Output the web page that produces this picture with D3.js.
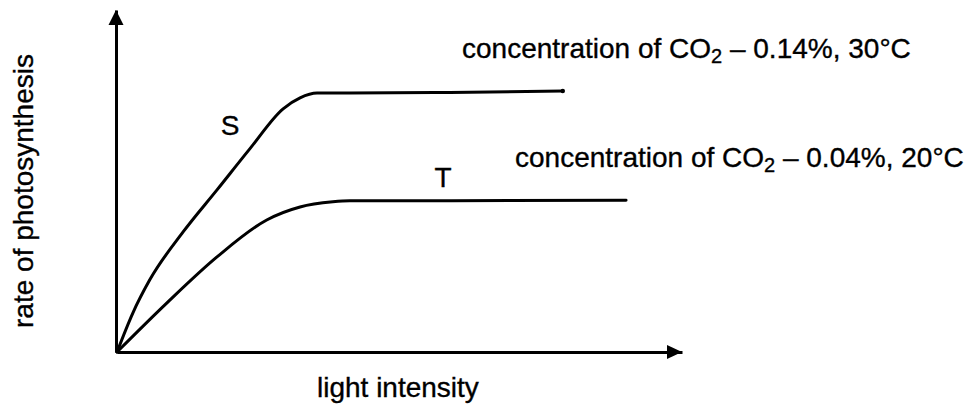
<!DOCTYPE html>
<html><head><meta charset="utf-8">
<script src="https://cdn.jsdelivr.net/npm/d3@7"></script>
<style>
html,body{margin:0;padding:0;background:#fff;}
text{font-family:"Liberation Sans",Arial,sans-serif;fill:#000;stroke:#000;stroke-width:0.35px;}
</style>
</head><body>
<svg id="chart" width="968" height="409"></svg>
<script>
// ---- data (arbitrary units) ----
const lightS = [0, 2.8, 5.8, 11.7, 17.7, 23.5, 29.4, 32.4, 35.4, 41.2, 58.9, 78.9];
const rateS  = [0, 11.4, 21.1, 35.1, 47.4, 59.4, 71.1, 74.3, 75.7, 75.7, 75.9, 76.3];
const lightT = [0, 8.8, 17.7, 26.5, 32.4, 38.2, 41.2, 58.9, 90.1];
const rateT  = [0, 14.3, 27.8, 38.6, 42.4, 43.9, 44.2, 44.2, 44.4];
const curveLabels = ["S", "T"];
const conditionLabels = [
  ["concentration of CO", "2", " \u2013 0.14%, 30\u00B0C"],
  ["concentration of CO", "2", " \u2013 0.04%, 20\u00B0C"]
];
const xTitle = "light intensity";
const yTitle = "rate of photosynthesis";

const svg = d3.select("#chart");
const x = d3.scaleLinear().domain([0, 100]).range([117, 682]);
const y = d3.scaleLinear().domain([0, 100]).range([352, 10]);

// axes (no ticks) with arrowheads
const gx = svg.append("g").attr("transform", `translate(0,${y(0)})`)
  .call(d3.axisBottom(x).tickValues([]).tickSizeOuter(0));
const gy = svg.append("g").attr("transform", `translate(${x(0) - 1},0)`)
  .call(d3.axisLeft(y).tickValues([]).tickSizeOuter(0));
[gx, gy].forEach(g => g.select(".domain").attr("stroke", "#000").attr("stroke-width", 3));

const xt = x(100), y0 = y(0);
svg.append("path").attr("d", `M${xt},${y0} L${xt - 15},${y0 - 7} L${xt - 15},${y0 + 7} Z`).attr("fill", "#000");
const yt = y(100), x0 = x(0) - 1;
svg.append("path").attr("d", `M${x0},${yt} L${x0 - 7.5},${yt + 15} L${x0 + 7.5},${yt + 15} Z`).attr("fill", "#000");

// curves
const line = d3.line().x(d => x(d[0])).y(d => y(d[1])).curve(d3.curveMonotoneX);
const sData = lightS.map((v, i) => [v, rateS[i]]);
const tData = lightT.map((v, i) => [v, rateT[i]]);
[sData, tData].forEach(data => {
  svg.append("path").datum(data).attr("d", line)
    .attr("fill", "none").attr("stroke", "#000").attr("stroke-width", 3)
    .attr("stroke-linecap", "round").attr("stroke-linejoin", "round");
});
// small blob at the end of S
const sEnd = sData[sData.length - 1];
svg.append("circle").attr("cx", x(sEnd[0])).attr("cy", y(sEnd[1])).attr("r", 2.2).attr("fill", "#000");

// curve letters
svg.append("text").attr("x", 230).attr("y", 135).attr("text-anchor", "middle")
  .attr("font-size", 28).text(curveLabels[0]);
svg.append("text").attr("x", 443).attr("y", 187).attr("text-anchor", "middle")
  .attr("font-size", 28).text(curveLabels[1]);

// condition labels
const condPos = [[462, 58], [515, 167]];
conditionLabels.forEach((parts, i) => {
  const t = svg.append("text").attr("x", condPos[i][0]).attr("y", condPos[i][1]).attr("font-size", 28);
  t.append("tspan").text(parts[0]);
  t.append("tspan").attr("font-size", 20).attr("dy", 5).text(parts[1]);
  t.append("tspan").attr("dy", -5).text(parts[2]);
});

// axis titles
svg.append("text").attr("x", 317).attr("y", 397).attr("font-size", 28).text(xTitle);
svg.append("text").attr("transform", "translate(33,191) rotate(-90)")
  .attr("text-anchor", "middle").attr("font-size", 28).text(yTitle);
</script>
</body></html>
